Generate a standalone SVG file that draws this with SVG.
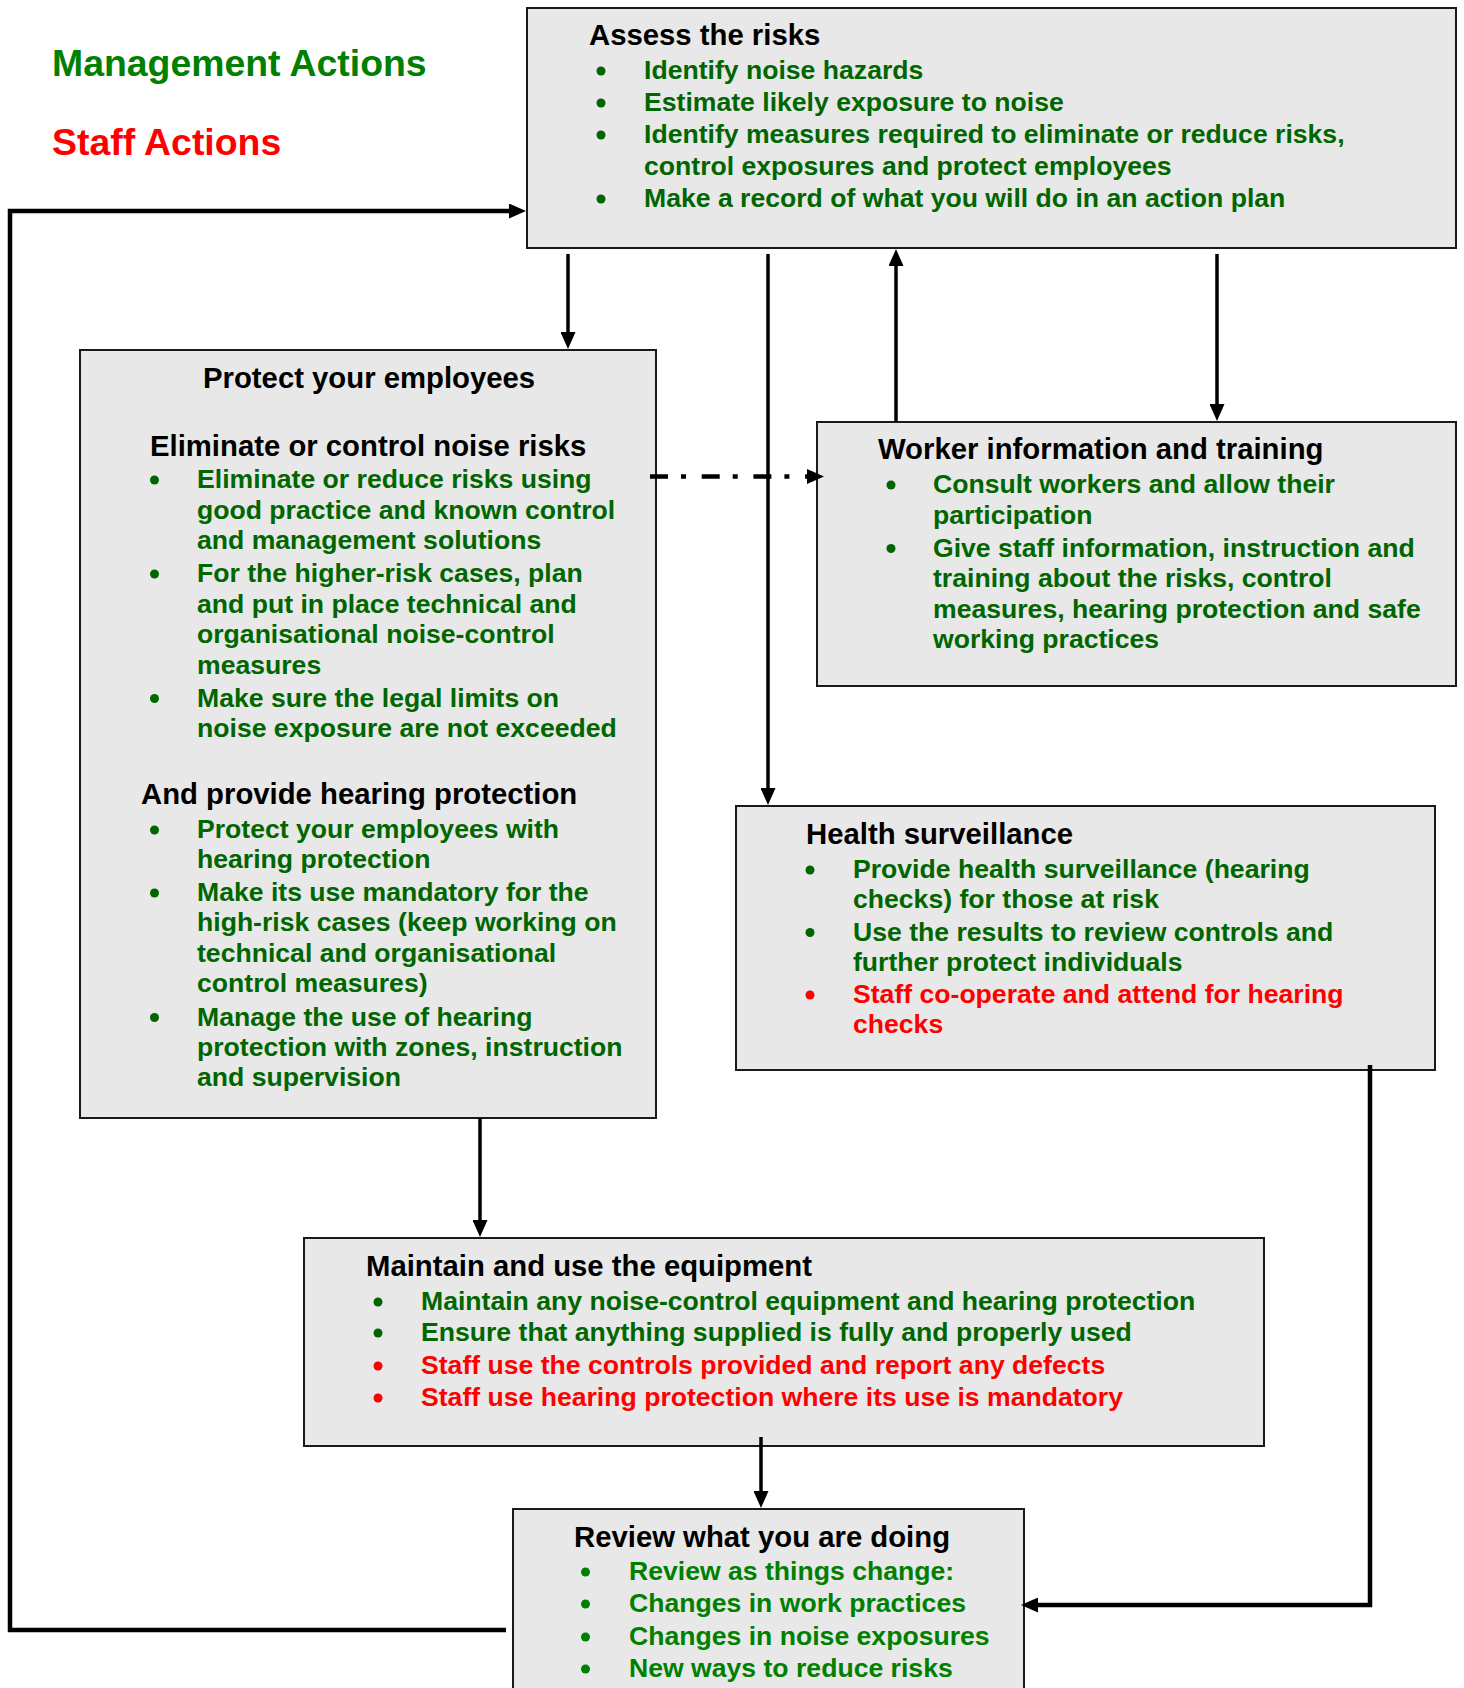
<svg xmlns="http://www.w3.org/2000/svg" width="1464" height="1688" viewBox="0 0 1464 1688">
<defs>
<style>
text{font-family:"Liberation Sans",Arial,sans-serif;font-weight:700}
.box{fill:#e8e8e8;stroke:#1a1a1a;stroke-width:2}
.h{font-size:29.3px;fill:#000}
.t{font-size:26.6px;fill:#006600}
.tg{font-size:26.6px;fill:#008000}
.r{font-size:26.6px;fill:#ff0000}
.b{fill:#006600}
.bg{fill:#008000}
.br{fill:#ff0000}
.c{fill:none;stroke:#000;stroke-width:3.5}
.cl{fill:none;stroke:#000;stroke-width:4.5}
.legend{font-size:37.4px}
</style>
<marker id="arr" markerUnits="userSpaceOnUse" markerWidth="17" markerHeight="15" refX="9" refY="7.5" orient="auto">
<path d="M0,0 L17,7.5 L0,15 z" fill="#000"/>
</marker>
</defs>
<rect width="1464" height="1688" fill="#fff"/>

<g id="legend">
<text class="legend" x="52" y="76" fill="#008000">Management Actions</text>
<text class="legend" x="52" y="155" fill="#ff0000">Staff Actions</text>
</g>

<g id="assess">
<rect class="box" x="527" y="8" width="929" height="240"/>
<text class="h" x="589" y="45">Assess the risks</text>
<circle class="b" cx="601" cy="71" r="4.5"/>
<text class="t" x="644" y="79">Identify noise hazards</text>
<circle class="b" cx="601" cy="103" r="4.5"/>
<text class="t" x="644" y="111">Estimate likely exposure to noise</text>
<circle class="b" cx="601" cy="135" r="4.5"/>
<text class="t" x="644" y="143">Identify measures required to eliminate or reduce risks,</text>
<text class="t" x="644" y="175">control exposures and protect employees</text>
<circle class="b" cx="601" cy="199" r="4.5"/>
<text class="t" x="644" y="207">Make a record of what you will do in an action plan</text>
</g>

<g id="protect">
<rect class="box" x="80" y="350" width="576" height="768"/>
<text class="h" x="203" y="388">Protect your employees</text>
<text class="h" x="150" y="456">Eliminate or control noise risks</text>
<circle class="b" cx="154.5" cy="480" r="4.5"/>
<text class="t" x="197" y="488">Eliminate or reduce risks using</text>
<text class="t" x="197" y="518.5">good practice and known control</text>
<text class="t" x="197" y="549">and management solutions</text>
<circle class="b" cx="154.5" cy="574" r="4.5"/>
<text class="t" x="197" y="582">For the higher-risk cases, plan</text>
<text class="t" x="197" y="612.5">and put in place technical and</text>
<text class="t" x="197" y="643">organisational noise-control</text>
<text class="t" x="197" y="673.5">measures</text>
<circle class="b" cx="154.5" cy="698.5" r="4.5"/>
<text class="t" x="197" y="706.5">Make sure the legal limits on</text>
<text class="t" x="197" y="737">noise exposure are not exceeded</text>
<text class="h" x="141" y="804">And provide hearing protection</text>
<circle class="b" cx="154.5" cy="830" r="4.5"/>
<text class="t" x="197" y="838">Protect your employees with</text>
<text class="t" x="197" y="868">hearing protection</text>
<circle class="b" cx="154.5" cy="893" r="4.5"/>
<text class="t" x="197" y="901">Make its use mandatory for the</text>
<text class="t" x="197" y="931">high-risk cases (keep working on</text>
<text class="t" x="197" y="961.5">technical and organisational</text>
<text class="t" x="197" y="992">control measures)</text>
<circle class="b" cx="154.5" cy="1017.5" r="4.5"/>
<text class="t" x="197" y="1025.5">Manage the use of hearing</text>
<text class="t" x="197" y="1056">protection with zones, instruction</text>
<text class="t" x="197" y="1086">and supervision</text>
</g>

<g id="worker">
<rect class="box" x="817" y="422" width="639" height="264"/>
<text class="h" x="878" y="459">Worker information and training</text>
<circle class="b" cx="891" cy="485" r="4.5"/>
<text class="t" x="933" y="493">Consult workers and allow their</text>
<text class="t" x="933" y="524">participation</text>
<circle class="b" cx="891" cy="548.5" r="4.5"/>
<text class="t" x="933" y="556.5">Give staff information, instruction and</text>
<text class="t" x="933" y="587">training about the risks, control</text>
<text class="t" x="933" y="617.5">measures, hearing protection and safe</text>
<text class="t" x="933" y="648">working practices</text>
</g>

<g id="health">
<rect class="box" x="736" y="806" width="699" height="264"/>
<text class="h" x="806" y="843.5">Health surveillance</text>
<circle class="b" cx="810" cy="870" r="4.5"/>
<text class="t" x="853" y="878">Provide health surveillance (hearing</text>
<text class="t" x="853" y="907.5">checks) for those at risk</text>
<circle class="b" cx="810" cy="932.5" r="4.5"/>
<text class="t" x="853" y="940.5">Use the results to review controls and</text>
<text class="t" x="853" y="970.5">further protect individuals</text>
<circle class="br" cx="810" cy="995" r="4.5"/>
<text class="r" x="853" y="1003">Staff co-operate and attend for hearing</text>
<text class="r" x="853" y="1033">checks</text>
</g>

<g id="maintain">
<rect class="box" x="304" y="1238" width="960" height="208"/>
<text class="h" x="366" y="1276">Maintain and use the equipment</text>
<circle class="b" cx="378" cy="1302" r="4.5"/>
<text class="t" x="421" y="1310">Maintain any noise-control equipment and hearing protection</text>
<circle class="b" cx="378" cy="1333" r="4.5"/>
<text class="t" x="421" y="1341">Ensure that anything supplied is fully and properly used</text>
<circle class="br" cx="378" cy="1366" r="4.5"/>
<text class="r" x="421" y="1374">Staff use the controls provided and report any defects</text>
<circle class="br" cx="378" cy="1398" r="4.5"/>
<text class="r" x="421" y="1406">Staff use hearing protection where its use is mandatory</text>
</g>

<g id="review">
<rect class="box" x="513" y="1509" width="511" height="200"/>
<text class="h" x="574" y="1547">Review what you are doing</text>
<circle class="bg" cx="585.5" cy="1572" r="4.5"/>
<text class="tg" x="629" y="1580">Review as things change:</text>
<circle class="bg" cx="585.5" cy="1604" r="4.5"/>
<text class="tg" x="629" y="1612">Changes in work practices</text>
<circle class="bg" cx="585.5" cy="1637" r="4.5"/>
<text class="tg" x="629" y="1645">Changes in noise exposures</text>
<circle class="bg" cx="585.5" cy="1669" r="4.5"/>
<text class="tg" x="629" y="1677">New ways to reduce risks</text>
</g>

<g id="connectors">
<path class="cl" d="M506,1630 H10 V211 H518" marker-end="url(#arr)"/>
<path class="c" d="M568,254 V341" marker-end="url(#arr)"/>
<path class="c" d="M768,254 V797" marker-end="url(#arr)"/>
<path class="c" d="M896,422 V257" marker-end="url(#arr)"/>
<path class="c" d="M1217,254 V413" marker-end="url(#arr)"/>
<path class="cl" d="M650,476.5 H816" stroke-dasharray="18 13 5 15.7" marker-end="url(#arr)"/>
<path class="c" d="M480,1118 V1229" marker-end="url(#arr)"/>
<path class="cl" d="M1370,1065 V1605 H1029" marker-end="url(#arr)"/>
<path class="c" d="M761,1437 V1500" marker-end="url(#arr)"/>
</g>
</svg>
